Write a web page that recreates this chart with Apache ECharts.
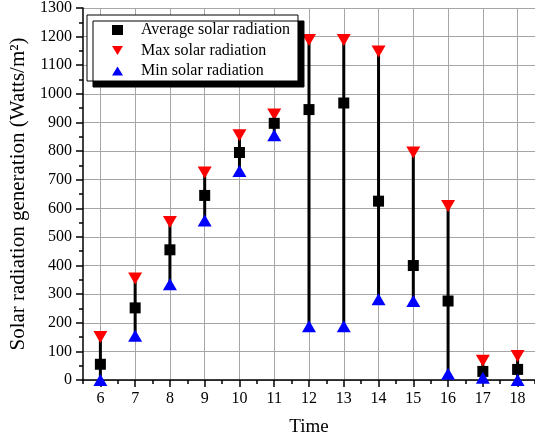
<!DOCTYPE html>
<html><head><meta charset="utf-8">
<script src="https://cdn.jsdelivr.net/npm/echarts@6/dist/echarts.min.js"></script>
<style>html,body{margin:0;padding:0;background:#fff;overflow:hidden}#c{width:535px;height:438px}</style>
</head><body><div id="c"></div>
<script>
const hours = [6, 7, 8, 9, 10, 11, 12, 13, 14, 15, 16, 17, 18];
const avgRad = [55, 252, 455, 645, 795, 897, 945, 968, 625, 400, 276, 30, 37];
const maxRad = [150, 355, 552, 725, 855, 928, 1188, 1188, 1148, 795, 608, 67, 84];
const minRad = [0, 155, 335, 557, 730, 855, 188, 188, 282, 276, 22, 8, 0];
const seriesNames = ['Average solar radiation', 'Max solar radiation', 'Min solar radiation'];

const FONT = 'Liberation Serif';
const chart = echarts.init(document.getElementById('c'));
const axisBase = {
  type: 'value', min: 5.5, max: 18.5, interval: 0.5, position: 'bottom'
};
chart.setOption({
  animation: false,
  grid: { left: 83, right: 0, top: 8, bottom: 58, outerBoundsMode: 'none', containLabel: false },
  legend: {
    orient: 'vertical', left: 87, top: 15,
    data: [
      { name: seriesNames[0], icon: 'rect' },
      { name: seriesNames[1], icon: 'path://M0,0 L12,0 L6,10 Z' },
      { name: seriesNames[2], icon: 'path://M6,0 L12,10 L0,10 Z' }
    ],
    itemWidth: 11, itemHeight: 10, itemGap: 4.5,
    padding: [7, 8, 2, 25],
    backgroundColor: '#fff', borderColor: '#000', borderWidth: 1, borderRadius: 0,
    shadowColor: '#000', shadowBlur: 0, shadowOffsetX: 6, shadowOffsetY: 6,
    textStyle: { fontFamily: FONT, fontSize: 16, lineHeight: 16, color: '#000', padding: [0, 0, 0, 13] }
  },
  xAxis: [
    Object.assign({}, axisBase, {
      name: 'Time', nameLocation: 'middle', nameGap: 38,
      nameTextStyle: { fontFamily: FONT, fontSize: 19, color: '#000' },
      axisLine: { lineStyle: { color: '#000', width: 1.5 } },
      axisTick: { length: 4, lineStyle: { color: '#000', width: 1.5 } },
      axisLabel: { fontFamily: FONT, fontSize: 16, color: '#000', margin: 11,
        formatter: v => (Math.abs(v - Math.round(v)) < 1e-6 ? String(Math.round(v)) : '') },
      splitLine: { show: true, lineStyle: { color: ['rgba(0,0,0,0)', '#a6a6a6'], width: 1 } }
    }),
    Object.assign({}, axisBase, {
      axisLine: { show: false },
      axisTick: { length: 7, customValues: hours, lineStyle: { color: '#000', width: 1.5 } },
      axisLabel: { show: false },
      splitLine: { show: false }
    })
  ],
  yAxis: {
    type: 'value', min: 0, max: 1300, interval: 100,
    name: 'Solar radiation generation (Watts/m²)', nameLocation: 'middle', nameGap: 54,
    nameTextStyle: { fontFamily: FONT, fontSize: 21, color: '#000' },
    axisLine: { show: true, lineStyle: { color: '#000', width: 1.5 } },
    axisTick: { show: true, length: 7, lineStyle: { color: '#000', width: 1.5 } },
    minorTick: { show: true, splitNumber: 2, length: 4, lineStyle: { color: '#000', width: 1.5 } },
    axisLabel: { fontFamily: FONT, fontSize: 16, color: '#000', margin: 11, formatter: v => String(v) },
    splitLine: { show: true, lineStyle: { color: '#a6a6a6', width: 1 } }
  },
  series: [
    {
      type: 'custom', xAxisIndex: 0, z: 1, silent: true,
      encode: { x: 0, y: [1, 2] },
      data: hours.map((h, i) => [h, minRad[i], maxRad[i]]),
      renderItem: (params, api) => {
        const p1 = api.coord([api.value(0), api.value(1)]);
        const p2 = api.coord([api.value(0), api.value(2)]);
        return { type: 'line', shape: { x1: p1[0], y1: p1[1], x2: p2[0], y2: p2[1] },
          style: { stroke: '#000', lineWidth: 3 } };
      }
    },
    {
      name: seriesNames[0], type: 'scatter', z: 3, symbol: 'rect', symbolSize: 11,
      itemStyle: { color: '#000', opacity: 1 },
      data: hours.map((h, i) => [h, avgRad[i]])
    },
    {
      name: seriesNames[1], type: 'scatter', z: 2, symbol: 'triangle', symbolRotate: 180, symbolSize: [14, 12],
      itemStyle: { color: '#ff0000', opacity: 1 },
      data: hours.map((h, i) => [h, maxRad[i]])
    },
    {
      name: seriesNames[2], type: 'scatter', z: 4, symbol: 'triangle', symbolSize: [14, 12],
      itemStyle: { color: '#0000ff', opacity: 1 },
      data: hours.map((h, i) => [h, minRad[i]])
    }
  ]
});
</script></body></html>
